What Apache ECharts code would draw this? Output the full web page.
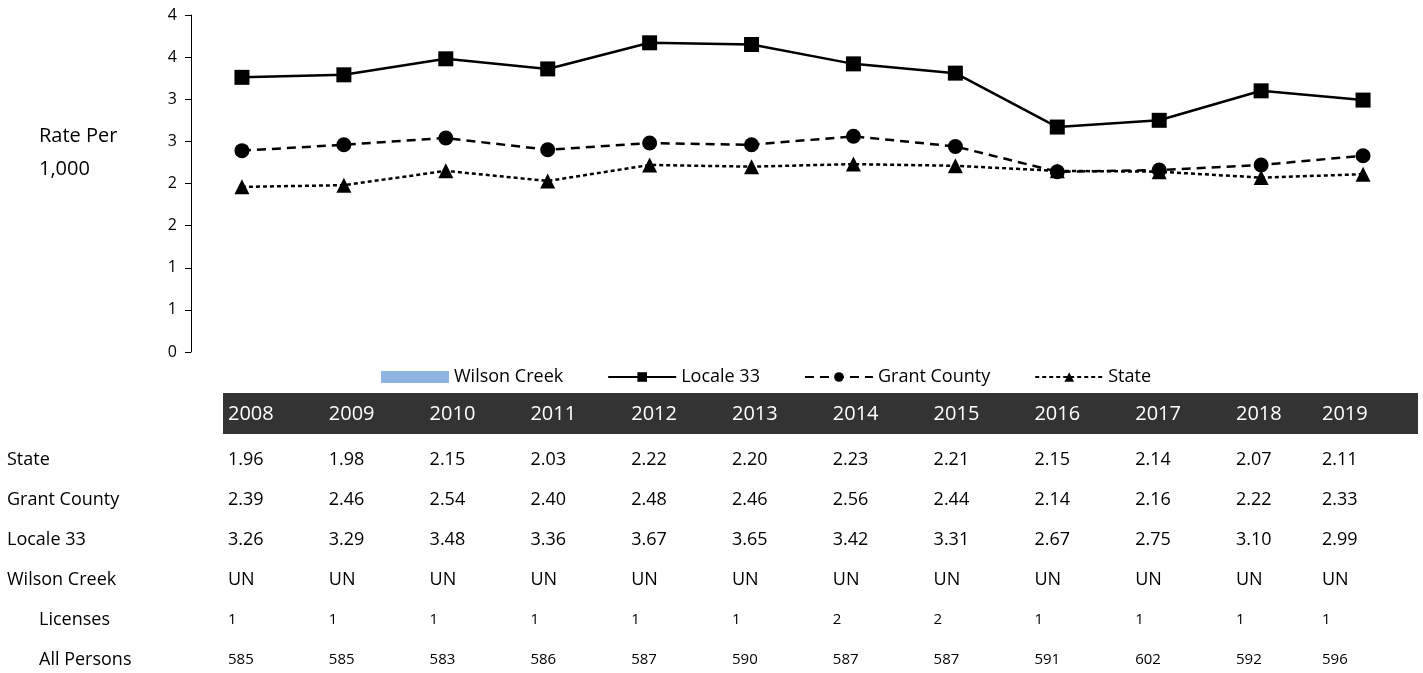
<!DOCTYPE html>
<html>
<head>
    <meta charset="UTF-8">
    <title>Rate Per 1,000</title>
    <script src="https://cdn.jsdelivr.net/npm/echarts@6/dist/echarts.min.js"></script>
    <style>
        html, body { margin: 0; padding: 0; background: #fff; }
        #myChart { width: 1423px; height: 673px; }
    </style>
</head>
<body>
<div id="myChart"></div>
<script>
var years    = ['2008','2009','2010','2011','2012','2013','2014','2015','2016','2017','2018','2019'];
var state    = [1.96, 1.98, 2.15, 2.03, 2.22, 2.20, 2.23, 2.21, 2.15, 2.14, 2.07, 2.11];
var grant    = [2.39, 2.46, 2.54, 2.40, 2.48, 2.46, 2.56, 2.44, 2.14, 2.16, 2.22, 2.33];
var locale   = [3.26, 3.29, 3.48, 3.36, 3.67, 3.65, 3.42, 3.31, 2.67, 2.75, 3.10, 2.99];
var wilson   = ['UN','UN','UN','UN','UN','UN','UN','UN','UN','UN','UN','UN'];
var licenses = [1, 1, 1, 1, 1, 1, 2, 2, 1, 1, 1, 1];
var persons  = [585, 585, 583, 586, 587, 590, 587, 587, 591, 602, 592, 596];

var FONT = '"Open Sans", sans-serif';

var chart_myChart = echarts.init(document.getElementById('myChart'), null, {renderer: 'canvas'});

// table under the chart (excel data table look)
var colX = [];
for (var i = 0; i < years.length; i++) {
    colX.push(i < years.length - 1 ? 228 + i * 100.8 : 1322);
}
var graphics = [];
graphics.push({
    type: 'text', left: 39, top: 120,
    style: {text: 'Rate Per\n1,000', font: '20px ' + FONT, fill: '#000', lineHeight: 33}
});
graphics.push({
    type: 'rect', shape: {x: 223, y: 393, width: 1195, height: 41},
    style: {fill: '#333333'}
});
function addText(txt, x, y, size, color) {
    graphics.push({
        type: 'text', x: x, y: y,
        style: {text: txt, font: size + 'px ' + FONT, fill: color, verticalAlign: 'middle', align: 'left'}
    });
}
for (var i = 0; i < years.length; i++) {
    addText(years[i], colX[i], 414, 20, '#fff');
}
var rows = [
    {label: 'State',        x: 7,  vals: state.map(function (v) { return v.toFixed(2); }),  size: 18},
    {label: 'Grant County', x: 7,  vals: grant.map(function (v) { return v.toFixed(2); }),  size: 18},
    {label: 'Locale 33',    x: 7,  vals: locale.map(function (v) { return v.toFixed(2); }), size: 18},
    {label: 'Wilson Creek', x: 7,  vals: wilson, size: 18},
    {label: 'Licenses',     x: 39, vals: licenses.map(String), size: 15},
    {label: 'All Persons',  x: 39, vals: persons.map(String),  size: 15}
];
for (var r = 0; r < rows.length; r++) {
    var y = 460 + r * 40;
    addText(rows[r].label, rows[r].x, y, 18, '#000');
    for (var i = 0; i < rows[r].vals.length; i++) {
        addText(rows[r].vals[i], colX[i], y, rows[r].size, '#000');
    }
}

var option = {
    animation: false,
    textStyle: {fontFamily: FONT},
    grid: {left: 191, right: 9, top: 15, bottom: 321, containLabel: false},
    legend: {
        left: 376,
        top: 363,
        itemWidth: 68,
        itemHeight: 12,
        itemGap: 44,
        textStyle: {fontSize: 18, color: '#000', fontFamily: FONT},
        data: [{name: 'Wilson Creek', icon: 'rect'}, 'Locale 33', 'Grant County', 'State']
    },
    xAxis: {
        type: 'category',
        data: years,
        boundaryGap: true,
        show: false
    },
    yAxis: {
        type: 'value',
        min: 0,
        max: 4,
        interval: 0.5,
        splitLine: {show: false},
        axisLine: {show: true, lineStyle: {color: '#000', width: 1}},
        axisTick: {show: true, length: 6, lineStyle: {color: '#000'}},
        axisLabel: {
            margin: 14,
            fontSize: 16,
            color: '#000',
            fontFamily: FONT,
            formatter: function (v) { return String(Math.round(v)); }
        }
    },
    series: [
        {
            name: 'Wilson Creek',
            type: 'bar',
            data: wilson.map(function (v) { return v === 'UN' ? null : v; }),
            itemStyle: {color: '#8DB4E2'}
        },
        {
            name: 'Locale 33',
            type: 'line',
            data: locale,
            symbol: 'rect',
            symbolSize: 15,
            itemStyle: {color: '#000'},
            lineStyle: {color: '#000', width: 2.5, type: 'solid'}
        },
        {
            name: 'Grant County',
            type: 'line',
            data: grant,
            symbol: 'circle',
            symbolSize: 15,
            itemStyle: {color: '#000'},
            lineStyle: {color: '#000', width: 2.5, type: [9, 6]}
        },
        {
            name: 'State',
            type: 'line',
            data: state,
            symbol: 'triangle',
            symbolSize: 15,
            itemStyle: {color: '#000'},
            lineStyle: {color: '#000', width: 2.5, type: [4, 3]}
        }
    ],
    graphic: graphics
};
chart_myChart.setOption(option);
</script>
</body>
</html>
